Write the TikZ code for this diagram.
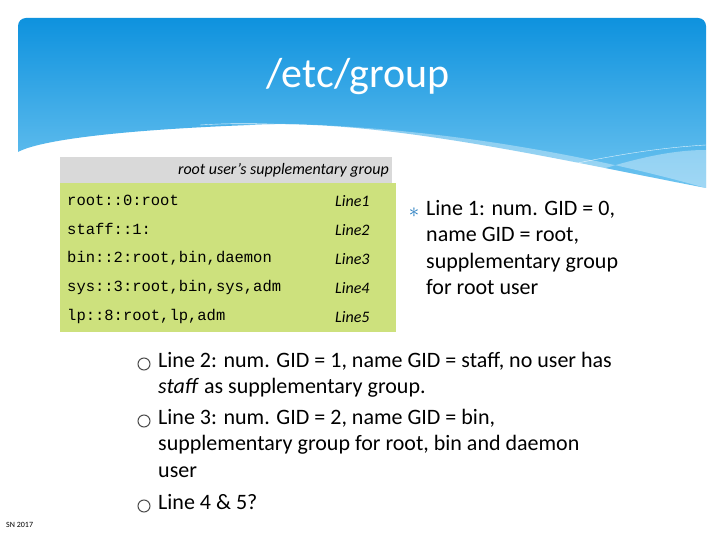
\documentclass[tikz,border=0pt]{standalone}
\usepackage{fontspec}
\setmainfont{Carlito}
\setmonofont{Liberation Mono}
\definecolor{hdtop}{RGB}{14,146,222}
\definecolor{hdbot}{RGB}{110,196,240}
\definecolor{tgreen}{RGB}{205,225,125}
\definecolor{starblue}{RGB}{30,120,190}
\begin{document}
\begin{tikzpicture}[x=1pt,y=-1pt,
  mono/.style={anchor=west,font=\ttfamily\fontsize{15.5}{17}\selectfont,inner sep=0pt},
  lin/.style={anchor=west,font=\itshape\fontsize{16}{18}\selectfont,inner sep=0pt},
  bul/.style={anchor=north west,font=\fontsize{22}{26.5}\selectfont,align=left,inner sep=0pt}]
\useasboundingbox (0,0) rectangle (720,540);
\fill[white] (0,0) rectangle (720,540);
% header
\shade[top color=hdtop,bottom color=hdbot,rounded corners=8pt]
  (18,100) -- (18,18) -- (706,18) -- (706,120) [sharp corners] -- (706,188) .. controls (560,160) and (380,118) .. (250,125) .. controls (120,130) and (40,140) .. (18,152) -- cycle;
\fill[white,opacity=0.35] (706,150) .. controls (600,150) and (500,230) .. (420,180) .. controls (350,140) and (300,118) .. (200,126) .. controls (300,118) and (500,130) .. (706,188) -- cycle;
\draw[white,opacity=0.8] (200,125) .. controls (350,115) and (500,160) .. (706,190);
\draw[white,opacity=0.8] (450,190) .. controls (550,170) and (620,150) .. (706,145);
\node[white,font=\fontsize{42}{46}\selectfont] (title) at (358,77) {/etc/group};
% table
\fill[gray!30] (60,157) rectangle (392,183);
\node[anchor=east,font=\itshape\fontsize{16}{18}\selectfont,inner sep=0pt] (hdr) at (389,170) {root user's supplementary group};
\fill[tgreen] (60,183) rectangle (396,332);
\node[mono] (r1) at (67,200) {root::0:root};
\node[mono] (r2) at (67,229) {staff::1:};
\node[mono] (r3) at (67,258) {bin::2:root,bin,daemon};
\node[mono] (r4) at (67,287) {sys::3:root,bin,sys,adm};
\node[mono] (r5) at (67,316) {lp::8:root,lp,adm};
\node[lin] (l1) at (335,201) {Line1};
\node[lin] (l2) at (335,230) {Line2};
\node[lin] (l3) at (335,259) {Line3};
\node[lin] (l4) at (335,288) {Line4};
\node[lin] (l5) at (335,317) {Line5};
% bullets
\node[font=\fontsize{22}{22}\selectfont,text=starblue] (s1) at (414,213) {$\ast$};
\node[bul] (b1) at (426,200) {Line 1: num. GID = 0,\\name GID = root,\\supplementary group\\for root user};
\foreach \y in {354,411,496}
  \draw[gray!60!black,line width=1pt] (144,\y+10) circle (6);
\node[bul] (b2) at (158,352) {Line 2: num. GID = 1, name GID = staff, no user has\\\textit{staff} as supplementary group.};
\node[bul] (b3) at (158,409) {Line 3: num. GID = 2, name GID = bin,\\supplementary group for root, bin and daemon\\user};
\node[bul] (b4) at (158,494) {Line 4 \& 5?};
\node[font=\fontsize{8}{9}\selectfont,anchor=west,inner sep=0pt] (sn) at (6,525) {SN 2017};
\end{tikzpicture}
\end{document}
